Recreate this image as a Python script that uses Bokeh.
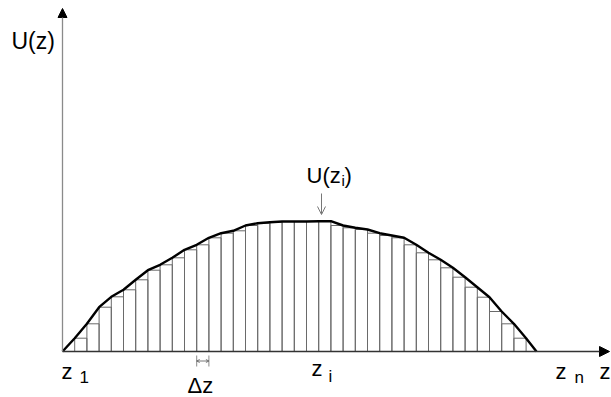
import numpy as np
from bokeh.plotting import figure
from bokeh.models import Range1d, Arrow, NormalHead, OpenHead, Label, ColumnDataSource
from bokeh.embed import file_html
from bokeh.resources import INLINE

# ---- data: step approximation of U(z) with uniform width dz ----
dz = 1.0
n_steps = 38
# step heights (left edge of each step, in units of dz)
step_u = [0.0, 0.133, 0.277, 0.443, 0.547, 0.617, 0.717, 0.813, 0.867, 0.937,
          1.017, 1.067, 1.137, 1.183, 1.207, 1.260, 1.283, 1.293, 1.300, 1.300,
          1.300, 1.303, 1.260, 1.237, 1.220, 1.183, 1.160, 1.137, 1.067, 0.987,
          0.917, 0.837, 0.743, 0.643, 0.543, 0.400, 0.277, 0.133]
# the continuous curve U(z)
curve_z = [0, 1, 2, 3, 4, 5, 6, 7, 8, 9, 10, 11, 12, 13, 14, 15, 16, 17, 18, 19,
           20, 21, 22, 23, 24, 25, 26, 27, 28, 29, 30, 31, 32, 33, 34, 35, 36,
           37, 38, 38.85]
curve_u = [0.0, 0.133, 0.277, 0.443, 0.547, 0.617, 0.717, 0.813, 0.867, 0.937,
           1.017, 1.067, 1.137, 1.183, 1.207, 1.260, 1.283, 1.293, 1.300, 1.300,
           1.300, 1.303, 1.303, 1.260, 1.237, 1.220, 1.183, 1.160, 1.137, 1.067,
           0.987, 0.917, 0.837, 0.743, 0.643, 0.543, 0.400, 0.277, 0.133, 0.0]
z_end = 38.85
i_mark = 21       # position of z_i
dz_mark = 11      # step used to show the width dz

# ---- canvas geometry ----
W, H = 611, 397
X0, PXZ = 62.0, 12.2     # pixel x of z=0, pixels per dz
Y0, PXU = 351.0, 100.0   # pixel y of U=0, pixels per unit of U

def zx(px):
    return (px - X0) / PXZ

def uy(py):
    return (Y0 - py) / PXU

p = figure(width=W, height=H, output_backend="svg", toolbar_location=None,
           x_range=Range1d(zx(0), zx(W)), y_range=Range1d(uy(H), uy(0)),
           min_border=0)
p.axis.visible = False
p.grid.visible = False
p.outline_line_color = None
p.background_fill_color = "white"

left = np.arange(n_steps) * dz
src = ColumnDataSource(dict(left=left, right=left + dz, top=step_u))
p.quad(left="left", right="right", bottom=0, top="top", source=src,
       fill_color=None, line_color="#6a6a6a", line_width=1)

p.line(curve_z, curve_u, line_color="black", line_width=2.4, line_join="round")

# axes with arrow heads
p.add_layout(Arrow(end=NormalHead(size=10, fill_color="black", line_color="black"),
                   x_start=0, y_start=0, x_end=zx(609), y_end=0,
                   line_color="#333333", line_width=1.3))
p.add_layout(Arrow(end=NormalHead(size=9, fill_color="black", line_color="black"),
                   x_start=0, y_start=0, x_end=0, y_end=uy(8),
                   line_color="#8a8a8a", line_width=1.3))

# width marker dz
for zz in (dz_mark * dz, (dz_mark + 1) * dz):
    p.segment(x0=[zz], y0=[uy(355)], x1=[zz], y1=[uy(366)],
              line_color="#8a8a8a", line_width=1)
p.add_layout(Arrow(start=OpenHead(size=3, line_color="#555555", line_width=0.8),
                   end=OpenHead(size=3, line_color="#555555", line_width=0.8),
                   x_start=dz_mark * dz, y_start=uy(360.5),
                   x_end=(dz_mark + 1) * dz, y_end=uy(360.5),
                   line_color="#555555", line_width=0.8))

# pointer to U(z_i)
p.add_layout(Arrow(end=OpenHead(size=8, line_color="#777777", line_width=1),
                   x_start=zx(321), y_start=uy(193), x_end=zx(321), y_end=uy(214),
                   line_color="#777777", line_width=1))

FONT = "Liberation Sans"
LIFT = 7

def lab(text, px, py, size):
    p.add_layout(Label(x=px, y=H - py + LIFT, x_units="screen", y_units="screen",
                       text=text, text_font=FONT, text_font_size=f"{size}px",
                       text_color="black", text_baseline="alphabetic"))

lab("U(z)", 11, 47, 23)
lab("U(z", 306, 182, 22)
lab("i", 341, 187, 15)
lab(")", 344, 182, 22)
lab("z", 61, 378, 22)
lab("1", 79, 383, 17)
lab("Δz", 187, 392, 22)
lab("z", 311, 375, 22)
lab("i", 328, 383, 17)
lab("z", 555, 378, 22)
lab("n", 574, 384, 17)
lab("z", 599, 378, 22)

open("out.html", "w").write(file_html(p, INLINE))
